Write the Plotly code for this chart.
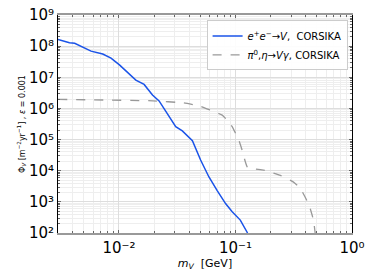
import plotly.graph_objects as go

# blue: e+e- -> V, CORSIKA
ee_m = [0.0030, 0.00376, 0.00417, 0.00576, 0.00726, 0.00855, 0.0101, 0.01187, 0.01396,
        0.01644, 0.0194, 0.0221, 0.026, 0.0307, 0.035, 0.0427, 0.0502, 0.0592, 0.0697,
        0.0822, 0.0937, 0.110, 0.127]
ee_flux = [1.65e8, 1.29e8, 1.23e8, 6.9e7, 5.6e7, 4.1e7, 2.5e7, 1.4e7, 8.1e6,
           5.9e6, 2.7e6, 1.74e6, 6.9e5, 2.6e5, 1.9e5, 9.2e4, 2.2e4, 6.3e3, 2.3e3,
           880, 480, 260, 100]

# gray dashed: pi0, eta -> V gamma, CORSIKA
mes_m = [0.0030, 0.0196, 0.0360, 0.0502, 0.0606, 0.0769, 0.0849, 0.0937, 0.100,
         0.107, 0.114, 0.1217, 0.127, 0.1746, 0.243, 0.315, 0.360, 0.410, 0.438,
         0.467, 0.483]
mes_flux = [1.95e6, 1.75e6, 1.5e6, 1.17e6, 8.9e5, 6.1e5, 4.2e5, 2.6e5, 1.6e5,
            9.5e4, 4.6e4, 1.9e4, 1.26e4, 1.05e4, 7.1e3, 4.3e3, 2.7e3, 1.1e3, 600,
            260, 100]

x_tickvals = [0.01, 0.1, 1]
x_ticktext = ["10⁻²", "10⁻¹", "10⁰"]
y_tickvals = [1e2, 1e3, 1e4, 1e5, 1e6, 1e7, 1e8, 1e9]
y_ticktext = ["10²", "10³", "10⁴", "10⁵", "10⁶", "10⁷", "10⁸", "10⁹"]

fig = go.Figure()
fig.add_trace(go.Scatter(
    x=ee_m, y=ee_flux, mode="lines",
    line=dict(color="#1a53e8", width=1.5),
    name="<i>e</i><sup>+</sup><i>e</i><sup>−</sup>→<i>V</i>,  CORSIKA"))
fig.add_trace(go.Scatter(
    x=mes_m, y=mes_flux, mode="lines", line_shape="spline",
    line=dict(color="#999999", width=1.3, dash="dash", smoothing=0.4),
    name="<i>π</i><sup>0</sup>,<i>η</i>→<i>Vγ</i>, CORSIKA"))

font = "DejaVu Sans, Arial, sans-serif"
fig.update_layout(
    width=374, height=280,
    margin=dict(l=58, r=22, t=15, b=47),
    paper_bgcolor="white", plot_bgcolor="white",
    font=dict(family=font, color="black"),
    showlegend=True,
    legend=dict(x=0.985, y=0.975, xanchor="right", yanchor="top",
                bgcolor="rgba(255,255,255,0.9)", bordercolor="#cccccc", borderwidth=1,
                font=dict(size=10, family=font), tracegroupgap=0,
                itemwidth=30),
    xaxis=dict(
        type="log", range=[-2.523, 0],
        tickvals=x_tickvals, ticktext=x_ticktext, ticklabeloverflow="allow",
        tickfont=dict(size=15), ticks="inside", ticklen=3, tickcolor="#666",
        showline=True, linecolor="#999999", linewidth=1.5, mirror="allticks",
        showgrid=True, gridcolor="#dddddd", gridwidth=1,
        minor=dict(ticks="inside", ticklen=2, tickcolor="#666", showgrid=True,
                   gridcolor="#eeeeee", dtick="D1"),
        title=dict(text="<i>m<sub>V</sub></i>  [GeV]", font=dict(size=11), standoff=2),
        zeroline=False, automargin=False),
    yaxis=dict(
        type="log", range=[2, 9],
        tickvals=y_tickvals, ticktext=y_ticktext, ticklabeloverflow="allow",
        tickfont=dict(size=15), ticks="inside", ticklen=3, tickcolor="#666",
        showline=True, linecolor="black", linewidth=1, mirror="allticks",
        showgrid=True, gridcolor="#dddddd", gridwidth=1,
        minor=dict(ticks="inside", ticklen=2, tickcolor="#666", showgrid=True,
                   gridcolor="#eeeeee", dtick="D1"),
        title=dict(text="Φ<sub><i>V</i></sub> [m<sup>−2</sup>yr<sup>−1</sup>] , <i>ε</i> = 0.001",
                   font=dict(size=8), standoff=2),
        zeroline=False, automargin=False),
)

fig.write_html("out.html", config={"displayModeBar": False},
               post_script="document.body.style.margin='0';document.body.style.overflow='hidden';")
